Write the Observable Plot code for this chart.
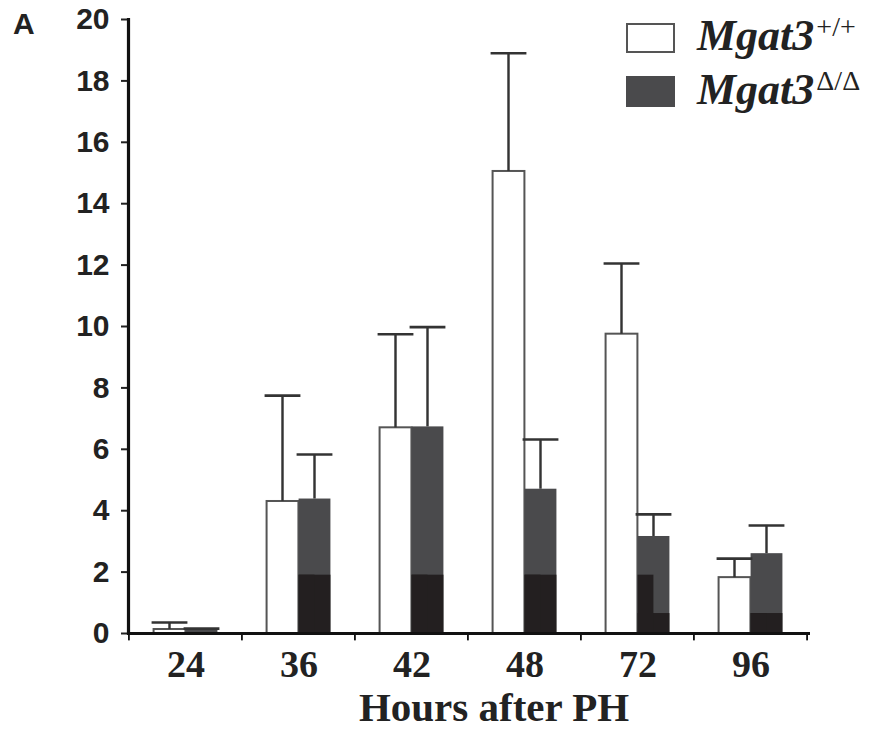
<!DOCTYPE html>
<html><head><meta charset="utf-8">
<script src="https://cdn.jsdelivr.net/npm/d3@7"></script>
<script src="https://cdn.jsdelivr.net/npm/@observablehq/plot@0.6"></script>
<style>
body{margin:0;background:#fff;}
#wrap{position:relative;width:883px;height:738px;overflow:hidden;}
#wrap svg{display:block;}
#overlay{position:absolute;left:0;top:0;pointer-events:none;}
</style></head><body><div id="wrap"></div>
<script>
// ---- data ----
const hours = ["24", "36", "42", "48", "72", "96"];
const wtMean = [0.13, 4.30, 6.70, 15.05, 9.75, 1.82];
const wtErr  = [0.23, 3.45, 3.05, 3.85, 2.30, 0.62];
const koMean = [0.12, 4.38, 6.73, 4.70, 3.16, 2.60];
const koErr  = [0.04, 1.45, 3.25, 1.62, 0.72, 0.92];
// darker lower portion of the mutant bars (as printed)
const koDarkLeft  = [0, 1.9, 1.9, 1.9, 1.9, 0.65];
const koDarkRight = [0, 1.9, 1.9, 1.9, 0.65, 0.65];
const yTicks = [0, 2, 4, 6, 8, 10, 12, 14, 16, 18, 20];
const xTitle = "Hours after PH";
const panelLabel = "A";
const seriesNames = ["Mgat3", "Mgat3"];
const seriesSup = ["+/+", "\u0394/\u0394"];

const rows = hours.map((h, i) => ({
  hour: h,
  wt: wtMean[i], wtTop: wtMean[i] + wtErr[i],
  ko: koMean[i], koTop: koMean[i] + koErr[i],
  dl: koDarkLeft[i], dr: koDarkRight[i]
}));

// ---- layout ----
const W = 883, H = 738, mL = 128, mR = 76, mT = 19, mB = 105;
const bw = (W - mL - mR) / hours.length;
const barW = 32;
const gap = (bw - 2 * barW) / 2;
const ink = "#222";
const dark = "#4a4a4c";
const black = "#231f20";
const errW = 2.6;

const wtIn = {insetLeft: gap, insetRight: gap + barW};
const koIn = {insetLeft: gap + barW, insetRight: gap};
const wtStem = {insetLeft: gap + barW / 2 - errW / 2, insetRight: gap + barW * 1.5 - errW / 2};
const koStem = {insetLeft: gap + barW * 1.5 - errW / 2, insetRight: gap + barW / 2 - errW / 2};

const chart = Plot.plot({
  width: W, height: H,
  marginLeft: mL, marginRight: mR, marginTop: mT, marginBottom: mB,
  style: {background: "white", overflow: "visible"},
  x: {type: "band", domain: hours, padding: 0, align: 0.5, axis: null},
  y: {domain: [0, 20], axis: null},
  marks: [
    // white bars
    Plot.barY(rows, {x: "hour", y: "wt", fill: "white", stroke: "#555", strokeWidth: 2, ...wtIn}),
    // mutant bars
    Plot.barY(rows, {x: "hour", y: "ko", fill: dark, ...koIn}),
    Plot.barY(rows, {x: "hour", y: "dr", fill: black, ...koIn}),
    Plot.barY(rows, {x: "hour", y: "dl", fill: black, insetLeft: gap + barW, insetRight: gap + barW / 2}),
    // error stems
    Plot.barY(rows, {x: "hour", y1: "wt", y2: "wtTop", fill: "#333", ...wtStem}),
    Plot.barY(rows, {x: "hour", y1: "ko", y2: "koTop", fill: "#333", ...koStem}),
    // error caps
    Plot.tickY(rows, {x: "hour", y: "wtTop", stroke: "#333", strokeWidth: errW, insetLeft: gap - 2, insetRight: gap + barW - 2}),
    Plot.tickY(rows, {x: "hour", y: "koTop", stroke: "#333", strokeWidth: errW, insetLeft: gap + barW - 2, insetRight: gap - 2}),
    // y axis
    Plot.axisY({ticks: yTicks, tickSize: 7, tickPadding: 12, tickFormat: d => String(d), label: null,
      fontSize: 30, fontFamily: "Liberation Sans, Arial, sans-serif", fontWeight: "bold", color: ink, strokeWidth: 2}),
    Plot.frame({anchor: "left", stroke: "#111", strokeWidth: 3.2}),
    // x axis line and band-boundary ticks
    Plot.ruleY([0], {stroke: "#111", strokeWidth: 3.2, insetLeft: -1, insetRight: -3}),
    Plot.barY(hours, {x: d => d, y1: 0, y2: -0.24, fill: "#111", insetLeft: -1, insetRight: bw - 1}),
    Plot.barY(hours.slice(-1), {x: d => d, y1: 0, y2: -0.24, fill: "#111", insetLeft: bw - 1, insetRight: -1}),
    Plot.axisX({tickSize: 0, tickPadding: 17, label: null, fontSize: 38,
      fontFamily: "Liberation Serif, Times New Roman, serif", fontWeight: "bold", color: ink}),
    Plot.text([xTitle], {frameAnchor: "bottom", dx: 26, dy: 87, fontSize: 41,
      fontFamily: "Liberation Serif, Times New Roman, serif", fontWeight: "bold", fill: ink})
  ]
});

const wrap = document.getElementById("wrap");
wrap.appendChild(chart);

// ---- overlay: panel letter and legend ----
const ov = d3.select(wrap).append("svg").attr("id", "overlay").attr("width", W).attr("height", H);
ov.append("text").attr("x", 13).attr("y", 34).text(panelLabel)
  .attr("font-family", "Liberation Sans, Arial, sans-serif").attr("font-weight", "bold")
  .attr("font-size", 30).attr("fill", ink);
const legendFills = ["white", dark];
const baselines = [50, 104];
seriesNames.forEach((name, i) => {
  const y = baselines[i];
  const r = ov.append("rect").attr("x", i === 0 ? 627 : 626).attr("y", i === 0 ? 24 : 76)
    .attr("width", i === 0 ? 47 : 49).attr("height", i === 0 ? 28 : 31)
    .attr("fill", legendFills[i]);
  if (i === 0) r.attr("stroke", "#555").attr("stroke-width", 2);
  const t = ov.append("text").attr("x", 697).attr("y", y).attr("fill", ink)
    .attr("font-family", "Liberation Serif, Times New Roman, serif");
  t.append("tspan").attr("font-size", 44).attr("font-weight", "bold").attr("font-style", "italic").text(name);
  t.append("tspan").attr("font-size", 28).attr("dy", -14).attr("dx", 2).text(seriesSup[i]);
});
</script>
</body></html>
